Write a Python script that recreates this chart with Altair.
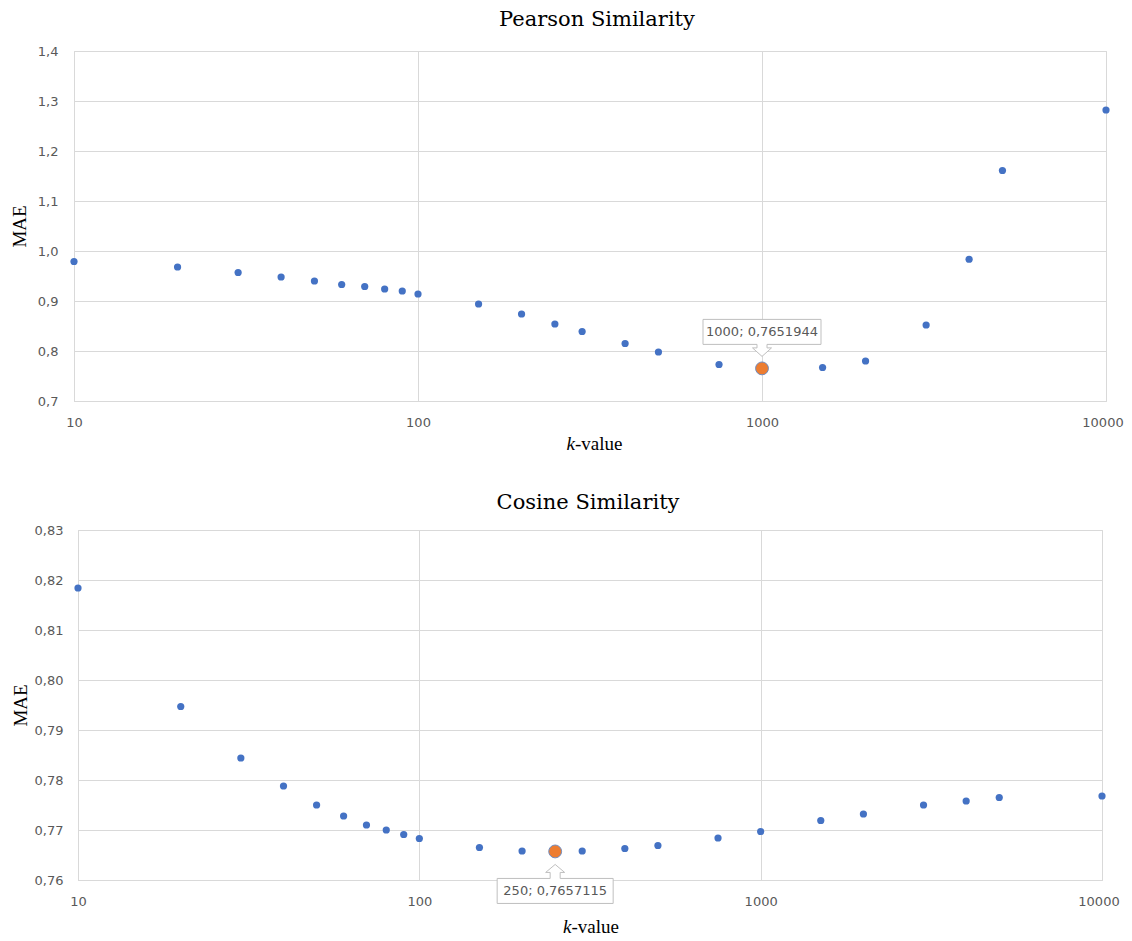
import altair as alt
import pandas as pd

# ---- data ----
k_values = [10, 20, 30, 40, 50, 60, 70, 80, 90, 100, 150, 200, 250, 300, 400, 500,
            750, 1000, 1500, 2000, 3000, 4000, 5000, 10000]
pearson_mae = [0.979, 0.968, 0.957, 0.948, 0.940, 0.933, 0.929, 0.924, 0.920, 0.914,
               0.894, 0.874, 0.854, 0.839, 0.815, 0.798, 0.773, 0.7651944, 0.767,
               0.780, 0.852, 0.9835, 1.161, 1.282]
cosine_mae = [0.8184, 0.7947, 0.7844, 0.7788, 0.7750, 0.7728, 0.7710, 0.7700, 0.7691,
              0.7683, 0.7665, 0.7658, 0.7657115, 0.7658, 0.7663, 0.7669, 0.7684,
              0.7697, 0.7719, 0.7732, 0.7750, 0.7758, 0.7765, 0.7768]
x_ticks = [10, 100, 1000, 10000]
pearson_y_ticks = [0.7, 0.8, 0.9, 1.0, 1.1, 1.2, 1.3, 1.4]
cosine_y_ticks = [0.76, 0.77, 0.78, 0.79, 0.80, 0.81, 0.82, 0.83]
titles = ["Pearson Similarity", "Cosine Similarity"]

BLUE = "#4472C4"
ORANGE = "#ED7D31"
GRID = "#d9d9d9"
LABEL = "#595959"

# callout shapes (unit = 100 px, relative to the highlighted point)
CALLOUT_UP = ("M-0.59,-0.49L0.59,-0.49L0.59,-0.24L0.05,-0.24L0.05,-0.205L0.095,-0.205"
              "L0,-0.12L-0.095,-0.205L-0.05,-0.205L-0.05,-0.24L-0.59,-0.24Z")
CALLOUT_DOWN = ("M-0.58,0.52L0.58,0.52L0.58,0.27L0.05,0.27L0.05,0.21L0.095,0.21"
                "L0,0.13L-0.095,0.21L-0.05,0.21L-0.05,0.27L-0.58,0.27Z")


def panel(title, values, y_ticks, decimals, width, height, title_dx, title_offset,
          title_pad, label_pad, callout, text_dy, kx_offset, ky):
    df = pd.DataFrame({"k": k_values, "MAE": values})
    i = min(range(len(values)), key=lambda j: values[j])
    best = pd.DataFrame({
        "k": [k_values[i]],
        "MAE": [values[i]],
        "label": [f"{k_values[i]}; " + str(values[i]).replace(".", ",")],
    })
    x = alt.X("k:Q",
              scale=alt.Scale(type="log", domain=[x_ticks[0], x_ticks[-1]], nice=False),
              axis=alt.Axis(values=x_ticks, format="d", title=None, labelPadding=15,
                            labelFlush=False,
                            labelOffset={"condition": {"test": f"datum.value >= {x_ticks[-1]}",
                                                       "value": -3.5},
                                         "value": 0}))
    y = alt.Y("MAE:Q",
              scale=alt.Scale(domain=[y_ticks[0], y_ticks[-1]], nice=False, zero=False),
              axis=alt.Axis(values=y_ticks,
                            labelExpr=f"replace(format(datum.value, '.{decimals}f'), '.', ',')",
                            title="MAE", titlePadding=title_pad, labelPadding=label_pad,
                            titleFont="Liberation Serif", titleFontSize=19,
                            titleFontWeight="normal", titleColor="black"))
    pts = alt.Chart(df).mark_circle(size=52, color=BLUE, opacity=1).encode(x=x, y=y)
    hi = alt.Chart(best).mark_circle(size=165, color=ORANGE, opacity=1,
                                     stroke="#6f8cc0", strokeWidth=1).encode(
        x="k:Q", y="MAE:Q")
    box = alt.Chart(best).mark_point(shape=callout, size=40000, filled=True,
                                     fill="white", fillOpacity=1, opacity=1,
                                     stroke="#bfbfbf", strokeWidth=1).encode(
        x="k:Q", y="MAE:Q")
    txt = alt.Chart(best).mark_text(dy=text_dy, baseline="middle", align="center",
                                    font="DejaVu Sans", fontSize=13, color=LABEL).encode(
        x="k:Q", y="MAE:Q", text="label:N")
    k_it = alt.Chart(best).mark_text(align="right", baseline="alphabetic",
                                     font="Liberation Serif", fontSize=19,
                                     fontStyle="italic", color="black").encode(
        x=alt.value(width / 2 + kx_offset), y=alt.value(height + ky), text=alt.value("k"))
    k_rest = alt.Chart(best).mark_text(align="left", baseline="alphabetic",
                                       font="Liberation Serif", fontSize=19,
                                       color="black").encode(
        x=alt.value(width / 2 + kx_offset), y=alt.value(height + ky),
        text=alt.value("-value"))
    return alt.layer(pts, hi, box, txt, k_it, k_rest).properties(
        width=width, height=height,
        title=alt.Title(title, font="DejaVu Serif", fontSize=21, fontWeight="normal",
                        color="black", anchor="middle", baseline="alphabetic",
                        dx=title_dx, offset=title_offset),
    )


top = panel(titles[0], pearson_mae, pearson_y_ticks, 1, 1032, 350, 7, -2,
            8, 16, CALLOUT_UP, -36.5, -15, 49)
bottom = panel(titles[1], cosine_mae, cosine_y_ticks, 2, 1024, 350, -2, -5.5,
               4, 15, CALLOUT_DOWN, 39.5, -18.5, 52.7)

chart = alt.vconcat(top, bottom, spacing=129, bounds="flush", center=True).properties(
    padding={"left": 1, "top": 0, "right": 0, "bottom": 0}
).configure_view(
    stroke=GRID, strokeWidth=1
).configure_axis(
    grid=True, gridColor=GRID, gridWidth=1, domainColor=GRID, domainWidth=1,
    ticks=False, labelFont="DejaVu Sans", labelFontSize=13, labelColor=LABEL,
)

chart.save("out.html", embed_options={"renderer": "svg", "actions": False})
